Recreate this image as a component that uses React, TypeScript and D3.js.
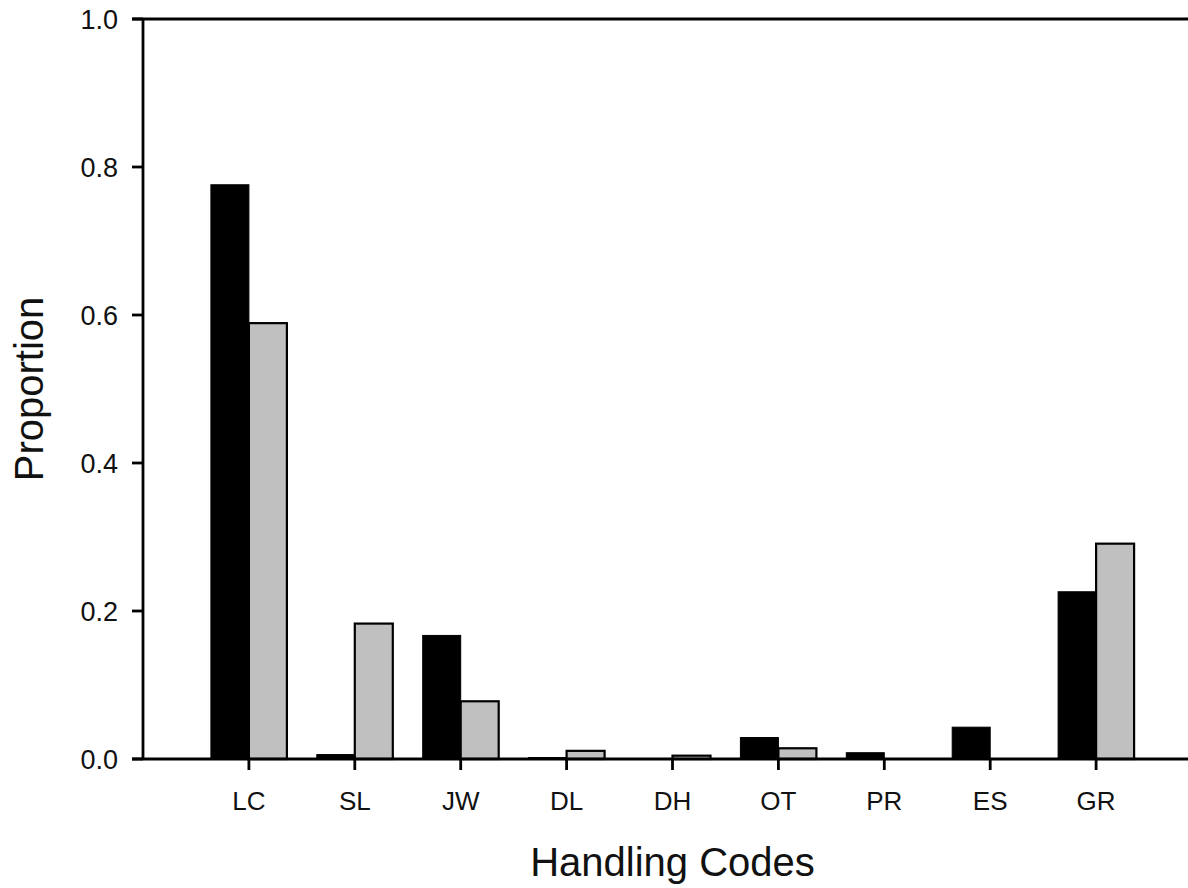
import React, { useEffect, useRef } from 'react';
import * as d3 from 'd3';

const categories = ['LC', 'SL', 'JW', 'DL', 'DH', 'OT', 'PR', 'ES', 'GR'];
const blackValues = [0.776, 0.006, 0.167, 0.002, 0, 0.029, 0.0085, 0.043, 0.226];
const grayValues = [0.589, 0.183, 0.078, 0.011, 0.0045, 0.0145, 0, 0, 0.291];
const yTicks = [0, 0.2, 0.4, 0.6, 0.8, 1.0];

const App = () => {
  const svgRef = useRef<SVGSVGElement | null>(null);

  useEffect(() => {
    if (!svgRef.current) return;
    const svg = d3.select(svgRef.current);
    svg.selectAll('*').remove();

    const width = 1188;
    const height = 888;
    const left = 143;
    const top = 19;
    const bottom = 759;
    const font = 'Arial, "Liberation Sans", sans-serif';

    // categories sit at 1..9, axis runs 0..10 (right part is cut off)
    const x = d3.scaleLinear().domain([0, categories.length + 1]).range([left, 1202]);
    const y = d3.scaleLinear().domain([0, 1]).range([bottom, top]);
    const barW = 38;

    // bars
    categories.forEach((c, i) => {
      const cx = x(i + 1);
      if (blackValues[i] > 0) {
        svg.append('rect')
          .attr('x', cx - barW)
          .attr('y', y(blackValues[i]))
          .attr('width', barW)
          .attr('height', y(0) - y(blackValues[i]))
          .attr('fill', '#000')
          .attr('stroke', '#000')
          .attr('stroke-width', 1);
      }
      if (grayValues[i] > 0) {
        svg.append('rect')
          .attr('x', cx)
          .attr('y', y(grayValues[i]))
          .attr('width', barW)
          .attr('height', y(0) - y(grayValues[i]))
          .attr('fill', '#c0c0c0')
          .attr('stroke', '#000')
          .attr('stroke-width', 2.2);
      }
    });

    // frame lines
    const lineW = 2.8;
    svg.append('line')
      .attr('x1', left).attr('x2', left)
      .attr('y1', top).attr('y2', bottom)
      .attr('stroke', '#000').attr('stroke-width', lineW);
    svg.append('line')
      .attr('x1', left - 11).attr('x2', width)
      .attr('y1', top).attr('y2', top)
      .attr('stroke', '#000').attr('stroke-width', lineW);
    svg.append('line')
      .attr('x1', left - 11).attr('x2', width)
      .attr('y1', bottom).attr('y2', bottom)
      .attr('stroke', '#000').attr('stroke-width', lineW);

    // y ticks + labels
    yTicks.forEach(t => {
      svg.append('line')
        .attr('x1', left - 11).attr('x2', left)
        .attr('y1', y(t)).attr('y2', y(t))
        .attr('stroke', '#000').attr('stroke-width', lineW);
      svg.append('text')
        .attr('x', 118)
        .attr('y', y(t) + 9.5)
        .attr('text-anchor', 'end')
        .attr('font-family', font)
        .attr('font-size', '27px')
        .attr('fill', '#111')
        .text(d3.format('.1f')(t));
    });

    // x ticks + labels
    categories.forEach((c, i) => {
      const cx = x(i + 1);
      svg.append('line')
        .attr('x1', cx).attr('x2', cx)
        .attr('y1', bottom).attr('y2', bottom + 11)
        .attr('stroke', '#000').attr('stroke-width', lineW);
      svg.append('text')
        .attr('x', cx)
        .attr('y', 810)
        .attr('text-anchor', 'middle')
        .attr('font-family', font)
        .attr('font-size', '26px')
        .attr('fill', '#111')
        .text(c);
    });

    // axis titles
    svg.append('text')
      .attr('x', (left + 1202) / 2)
      .attr('y', 876)
      .attr('text-anchor', 'middle')
      .attr('font-family', font)
      .attr('font-size', '40px')
      .attr('fill', '#111')
      .text('Handling Codes');

    svg.append('text')
      .attr('transform', `translate(43,${(top + bottom) / 2}) rotate(-90)`)
      .attr('text-anchor', 'middle')
      .attr('font-family', font)
      .attr('font-size', '40px')
      .attr('fill', '#111')
      .text('Proportion');

    svg.attr('width', width).attr('height', height);
  }, []);

  return (
    <div style={{ position: 'absolute', left: 0, top: 0, background: '#fff' }}>
      <svg ref={svgRef} width={1188} height={888} style={{ display: 'block' }}></svg>
    </div>
  );
};

export default App;
